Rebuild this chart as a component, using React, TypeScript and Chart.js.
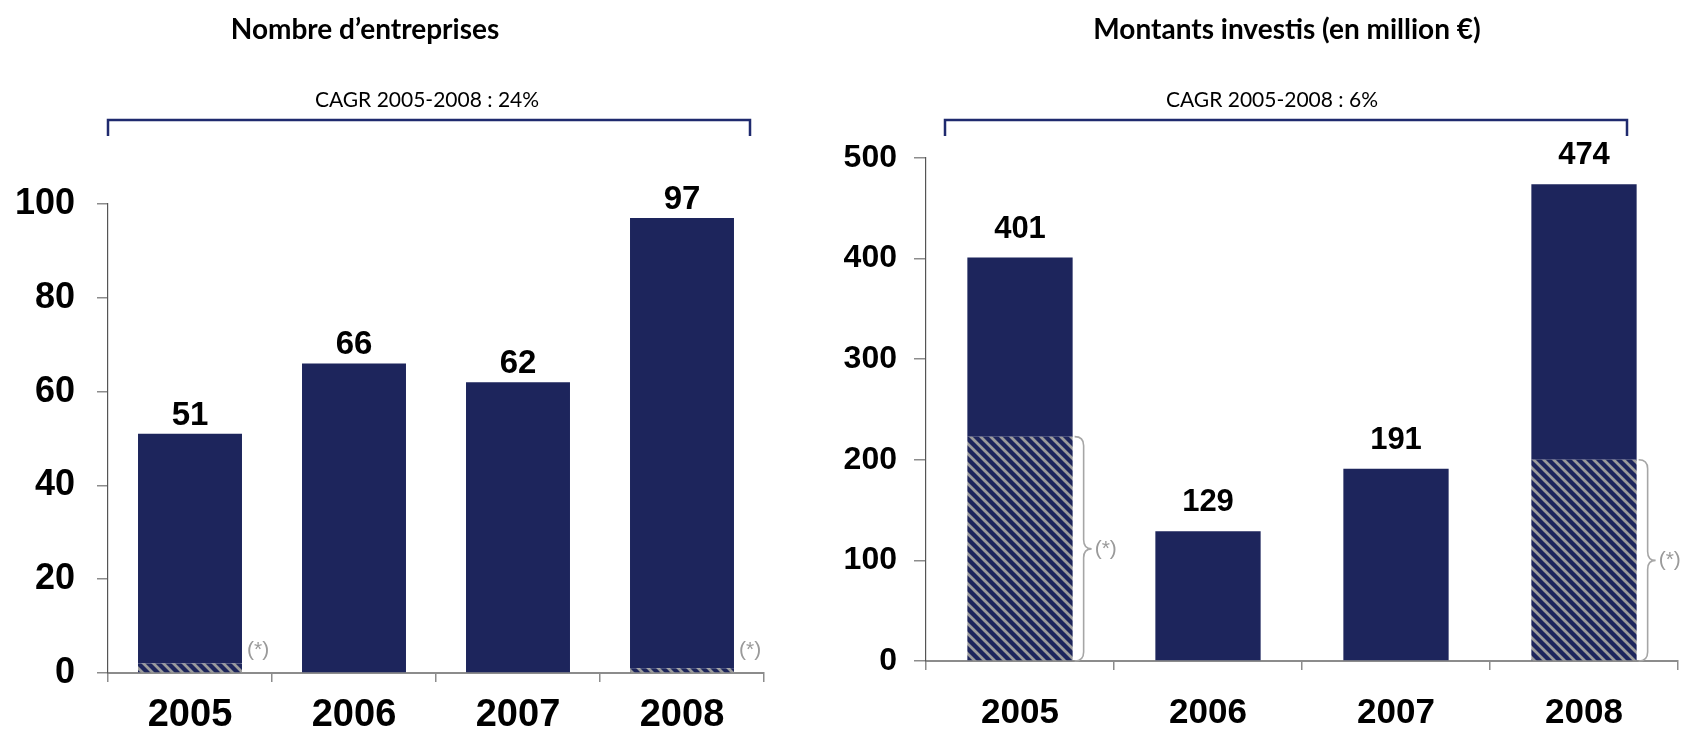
import React, { useEffect, useRef } from "react";
import { Chart, registerables } from "chart.js";

Chart.register(...registerables);

// ---------- data ----------
const years = ["2005", "2006", "2007", "2008"];
const companiesTotal = [51, 66, 62, 97];
const companiesHatched = [2, 0, 0, 1];
const amountsTotal = [401, 129, 191, 474];
const amountsHatched = [223, 0, 0, 200];

const titleLeft = "Nombre d’entreprises";
const titleRight = "Montants investis (en million €)";
const cagrLeft = "CAGR 2005-2008 : 24%";
const cagrRight = "CAGR 2005-2008 : 6%";
const footnoteMark = "(*)";

// ---------- styles ----------
const NAVY = "#1d255c";
const STRIPE = "#9c9c9c";
const BRACKET = "#1f2a6e";
const NUM_FONT = "'Liberation Sans', Arial, sans-serif";
const TXT_FONT = "Lato, 'Open Sans', sans-serif";

function makePattern(): CanvasPattern | string {
  const s = 10;
  const c = document.createElement("canvas");
  c.width = s;
  c.height = s;
  const g = c.getContext("2d");
  if (!g) return NAVY;
  g.fillStyle = NAVY;
  g.fillRect(0, 0, s, s);
  g.strokeStyle = STRIPE;
  g.lineWidth = 2.8;
  g.beginPath();
  for (let k = -1; k <= 1; k++) {
    g.moveTo(-2, -2 + k * s);
    g.lineTo(s + 2, s + 2 + k * s);
  }
  g.stroke();
  return g.createPattern(c, "repeat") || NAVY;
}

type DecorOpts = {
  id: string;
  title: string;
  titleX: number;
  cagr: string;
  cagrX: number;
  bx0: number;
  bx1: number;
  totals: number[];
  hatched: number[];
  gap: number;
  valueFont: number;
  brace: boolean;
};

function decorPlugin(o: DecorOpts) {
  return {
    id: o.id,
    afterDraw(chart: any) {
      const ctx: CanvasRenderingContext2D = chart.ctx;
      const xs = chart.scales.x;
      const ys = chart.scales.y;
      ctx.save();
      // title
      ctx.fillStyle = "#000";
      ctx.textAlign = "center";
      ctx.textBaseline = "middle";
      ctx.font = `bold 28px ${TXT_FONT}`;
      ctx.fillText(o.title, o.titleX, 30);
      // CAGR
      ctx.font = `21px ${TXT_FONT}`;
      ctx.fillText(o.cagr, o.cagrX, 100);
      // bracket
      ctx.strokeStyle = BRACKET;
      ctx.lineWidth = 2.5;
      ctx.beginPath();
      ctx.moveTo(o.bx0, 136);
      ctx.lineTo(o.bx0, 120);
      ctx.lineTo(o.bx1, 120);
      ctx.lineTo(o.bx1, 136);
      ctx.stroke();
      // value labels
      ctx.font = `bold ${o.valueFont}px ${NUM_FONT}`;
      ctx.textBaseline = "alphabetic";
      ctx.fillStyle = "#000";
      o.totals.forEach((t, i) => {
        const x = xs.getPixelForValue(i);
        const y = ys.getPixelForValue(t);
        ctx.fillText(String(t), x, y - o.gap);
      });
      // footnotes
      const meta = chart.getDatasetMeta(1);
      const y0 = ys.getPixelForValue(0);
      ctx.font = `21px ${NUM_FONT}`;
      ctx.fillStyle = "#9a9a9a";
      ctx.strokeStyle = "#a6a6a6";
      ctx.lineWidth = 1.6;
      ctx.textAlign = "left";
      ctx.textBaseline = "middle";
      o.hatched.forEach((h, i) => {
        if (!h) return;
        const el = meta.data[i];
        const right = el.x + el.width / 2;
        if (!o.brace) {
          ctx.fillText(footnoteMark, right + 5, y0 - 23);
        } else {
          const yTop = ys.getPixelForValue(h);
          const mid = (yTop + y0) / 2;
          const xa = right + 2;
          const xb = xa + 9;
          const xc = xa + 17;
          const r = 9;
          ctx.beginPath();
          ctx.moveTo(xa, yTop);
          ctx.quadraticCurveTo(xb, yTop, xb, yTop + r);
          ctx.lineTo(xb, mid - r);
          ctx.quadraticCurveTo(xb, mid, xc, mid);
          ctx.quadraticCurveTo(xb, mid, xb, mid + r);
          ctx.lineTo(xb, y0 - r);
          ctx.quadraticCurveTo(xb, y0, xa, y0);
          ctx.stroke();
          ctx.fillText(footnoteMark, xc + 3, mid);
        }
      });
      ctx.restore();
    },
  };
}

type ChartOpts = {
  totals: number[];
  hatched: number[];
  max: number;
  step: number;
  padTop: number;
  padRight: number;
  yWidth: number;
  xHeight: number;
  barPct: number;
  yFont: number;
  yPad: number;
  yTick: number;
  xFont: number;
  xPad: number;
  decor: DecorOpts;
};

function buildConfig(o: ChartOpts, pattern: CanvasPattern | string): any {
  const solid = o.totals.map((t, i) => t - o.hatched[i]);
  return {
    type: "bar",
    data: {
      labels: years,
      datasets: [
        { data: o.hatched, backgroundColor: pattern, stack: "s" },
        { data: solid, backgroundColor: NAVY, stack: "s" },
      ],
    },
    options: {
      animation: false,
      responsive: false,
      layout: { padding: { top: o.padTop, right: o.padRight, left: 0, bottom: 0 } },
      plugins: { legend: { display: false }, tooltip: { enabled: false }, title: { display: false } },
      datasets: { bar: { categoryPercentage: 1, barPercentage: o.barPct, borderWidth: 0 } },
      scales: {
        x: {
          stacked: true,
          grid: { offset: true, drawOnChartArea: false, tickLength: 9, color: "#8c8c8c", lineWidth: 1.5 },
          border: { color: "#8c8c8c", width: 2 },
          ticks: { color: "#000", font: { family: NUM_FONT, weight: "bold", size: o.xFont }, padding: o.xPad },
          afterFit: (s: any) => {
            s.height = o.xHeight;
          },
        },
        y: {
          stacked: true,
          min: 0,
          max: o.max,
          ticks: { stepSize: o.step, color: "#000", font: { family: NUM_FONT, weight: "bold", size: o.yFont }, padding: o.yPad },
          grid: { drawOnChartArea: false, tickLength: o.yTick, color: "#8c8c8c", lineWidth: 1.5 },
          border: { color: "#555", width: 1.2 },
          afterFit: (s: any) => {
            s.width = o.yWidth;
          },
        },
      },
    },
    plugins: [decorPlugin(o.decor)],
  };
}

const leftOpts: ChartOpts = {
  totals: companiesTotal,
  hatched: companiesHatched,
  max: 100,
  step: 20,
  padTop: 204,
  padRight: 80,
  yWidth: 108,
  xHeight: 58,
  barPct: 0.634,
  yFont: 36,
  yPad: 22,
  yTick: 11,
  xFont: 38,
  xPad: 11,
  decor: {
    id: "decorLeft",
    title: titleLeft,
    titleX: 365,
    cagr: cagrLeft,
    cagrX: 427,
    bx0: 108,
    bx1: 750,
    totals: companiesTotal,
    hatched: companiesHatched,
    gap: 9,
    valueFont: 33,
    brace: false,
  },
};

const rightOpts: ChartOpts = {
  totals: amountsTotal,
  hatched: amountsHatched,
  max: 500,
  step: 100,
  padTop: 158,
  padRight: 10,
  yWidth: 82,
  xHeight: 70,
  barPct: 0.56,
  yFont: 32,
  yPad: 17,
  yTick: 12,
  xFont: 35,
  xPad: 22,
  decor: {
    id: "decorRight",
    title: titleRight,
    titleX: 443,
    cagr: cagrRight,
    cagrX: 428,
    bx0: 101,
    bx1: 783,
    totals: amountsTotal,
    hatched: amountsHatched,
    gap: 20,
    valueFont: 31,
    brace: true,
  },
};

function BarPanel({ opts, left }: { opts: ChartOpts; left: number }) {
  const ref = useRef<HTMLCanvasElement | null>(null);
  useEffect(() => {
    if (!ref.current) return;
    const chart = new Chart(ref.current, buildConfig(opts, makePattern()));
    return () => chart.destroy();
  }, [opts]);
  return (
    <canvas
      ref={ref}
      width={844}
      height={731}
      style={{ position: "absolute", left, top: 0, width: 844, height: 731 }}
    />
  );
}

export default function App() {
  return (
    <div
      style={{
        position: "absolute",
        left: 0,
        top: 0,
        width: 1688,
        height: 731,
        background: "#fff",
        overflow: "hidden",
      }}
    >
      <BarPanel opts={leftOpts} left={0} />
      <BarPanel opts={rightOpts} left={844} />
    </div>
  );
}
